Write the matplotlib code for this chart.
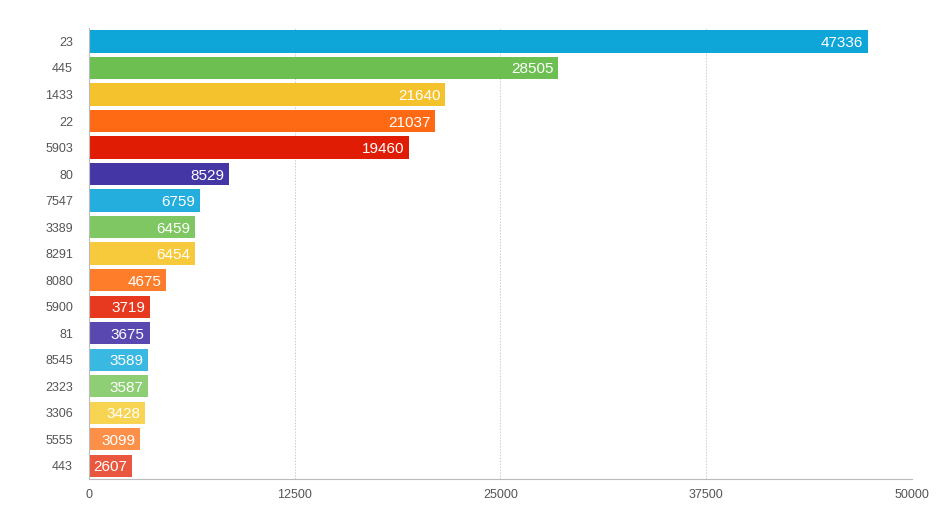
import matplotlib
matplotlib.use("Agg")
import matplotlib.pyplot as plt

categories = ["23", "445", "1433", "22", "5903", "80", "7547", "3389", "8291",
              "8080", "5900", "81", "8545", "2323", "3306", "5555", "443"]
values = [47336, 28505, 21640, 21037, 19460, 8529, 6759, 6459, 6454,
          4675, 3719, 3675, 3589, 3587, 3428, 3099, 2607]
colors = ["#0ea5d8", "#6dbf52", "#f4c22c", "#fe6a14", "#e11c04", "#4536a5",
          "#24aedd", "#7fc763", "#f6ca3a", "#fe7d2a", "#e6391f", "#5848b0",
          "#39b8e1", "#8ecf75", "#f8d453", "#fd9049", "#e9583e"]
xticks = [0, 12500, 25000, 37500, 50000]

fig = plt.figure(figsize=(9.47, 5.2), dpi=100)
ax = fig.add_axes([0.094, 0.0788, 0.869, 0.867])
y = list(range(len(categories)))
ax.barh(y, values, height=0.84, color=colors, zorder=2)
for yi, v in zip(y, values):
    ax.annotate(str(v), xy=(v, yi), xytext=(-3.5, 0), textcoords="offset points",
                color="white", ha="right", va="center_baseline",
                fontsize=11, family="Liberation Sans", zorder=3)
ax.set_ylim(len(categories) - 0.5, -0.5)
ax.set_xlim(0, 50000)
ax.set_yticks(y)
ax.set_yticklabels(categories)
ax.set_xticks(xticks)
ax.set_xticklabels([str(t) for t in xticks])
ax.tick_params(length=0, colors="#555555", labelsize=9)
ax.tick_params(axis="y", pad=11.5)
ax.tick_params(axis="x", pad=7.5)
for lbl in ax.get_xticklabels() + ax.get_yticklabels():
    lbl.set_family("Liberation Sans")
ax.grid(axis="x", color="#cccccc", linestyle=(0, (1.5, 1.5)), linewidth=0.7, zorder=0)
for s in ["top", "right"]:
    ax.spines[s].set_visible(False)
ax.spines["left"].set_color("#bbbbbb")
ax.spines["bottom"].set_color("#bbbbbb")
ax.spines["left"].set_zorder(4)
fig.savefig("out.png", dpi=100)
